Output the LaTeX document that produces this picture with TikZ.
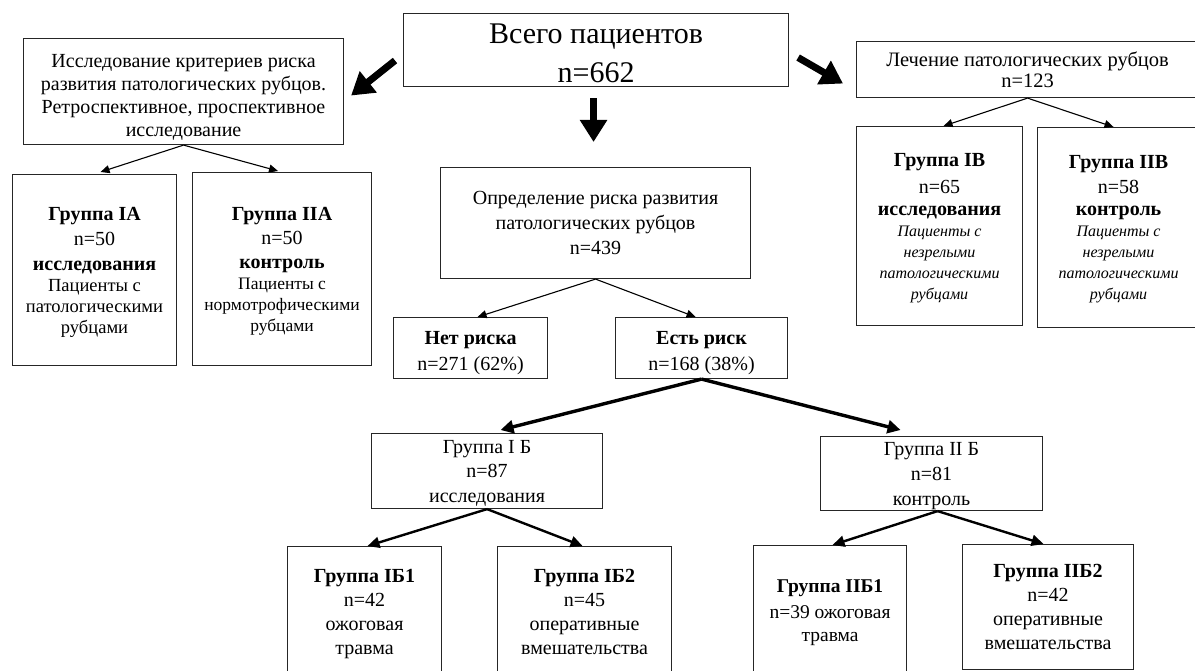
\documentclass[tikz,border=0pt]{standalone}
\usepackage{fontspec}
\setmainfont{Liberation Serif}
\usetikzlibrary{arrows.meta}
\newcommand{\smf}[1]{{\fontsize{18.5}{20}\selectfont #1}}
\newcommand{\smg}[1]{{\fontsize{17.5}{20}\selectfont #1}}
\newcommand{\itf}[1]{{\fontsize{16}{20}\selectfont\itshape #1}}
\newcommand{\upr}[1]{\rule{0pt}{#1}}
\begin{document}
\begin{tikzpicture}[x=1pt,y=-1pt,
  box/.style={draw=black!85, line width=1.1pt, fill=white, inner sep=2pt, align=center,
    anchor=north west, text depth=0pt, font=\fontsize{20}{24}\selectfont},
  thinarrow/.style={-{Triangle[length=9pt,width=8pt]}, line width=1.1pt},
  medarrow/.style={-{Triangle[length=12pt,width=11pt]}, line width=2.4pt},
  boldarrow/.style={-{Triangle[length=13pt,width=13pt]}, line width=3.4pt},
  heavy/.style={-{Triangle[length=22pt,width=26pt]}, line width=7pt}
]
\useasboundingbox (0,0) rectangle (1195,671);
\fill[white] (0,0) rectangle (1195,671);
\clip (0,0) rectangle (1195,671);

% top row
\node[box, minimum width=385pt, minimum height=73pt] (total) at (403,13) {};
\node[align=center, inner sep=2pt, font=\fontsize{30}{39}\selectfont] (totaltxt) at ([shift={(0,3.5)}]total.center) {Всего пациентов\\n=662};
\node[box, minimum width=320pt, minimum height=106pt, font=\fontsize{20}{23.2}\selectfont] (left) at (23,38)
  {\upr{21pt}Исследование критериев риска\\развития патологических рубцов.\\Ретроспективное, проспективное\\исследование};
\node[box, minimum width=342pt, minimum height=56pt, font=\fontsize{20.5}{21}\selectfont] (right) at (856,41)
  {Лечение патологических рубцов\\n=123};

% left branch
\node[box, minimum width=164pt, minimum height=191pt, font=\fontsize{20}{21}\selectfont] (ia) at (12,174)
  {\textbf{Группа IА}\\[4pt]n=50\\[4pt]\textbf{исследования}\\\smf{Пациенты с}\\\smf{патологическими}\\\smf{рубцами}};
\node[box, minimum width=179pt, minimum height=193pt, font=\fontsize{20}{21}\selectfont] (iia) at (192,172)
  {\textbf{Группа IIА}\\[3pt]n=50\\[3pt]\textbf{контроль}\\\smg{Пациенты с}\\\smg{нормотрофическими}\\\smg{рубцами}};

% right branch
\node[box, minimum width=166pt, minimum height=199pt, font=\fontsize{20}{21}\selectfont] (ib) at (856,126)
  {\textbf{Группа IВ}\\[6pt]n=65\\[1pt]\textbf{исследования}\\\itf{Пациенты с}\\\itf{незрелыми}\\\itf{патологическими}\\\itf{рубцами}};
\node[box, minimum width=162pt, minimum height=200pt, font=\fontsize{20}{21}\selectfont] (iib) at (1037,127)
  {\textbf{Группа IIВ}\\[4pt]n=58\\[1pt]\textbf{контроль}\\\itf{Пациенты с}\\\itf{незрелыми}\\\itf{патологическими}\\\itf{рубцами}};

% middle branch
\node[box, minimum width=310pt, minimum height=111pt, font=\fontsize{20}{25}\selectfont] (risk) at (440,167)
  {Определение риска развития\\патологических рубцов\\n=439};
\node[box, minimum width=154pt, minimum height=61pt, font=\fontsize{20}{26}\selectfont] (norisk) at (393,317)
  {\upr{19pt}\textbf{Нет риска}\\n=271 (62\%)};
\node[box, minimum width=172pt, minimum height=61pt, font=\fontsize{20}{26}\selectfont] (yesrisk) at (615,317)
  {\upr{19pt}\textbf{Есть риск}\\n=168 (38\%)};

\node[box, minimum width=231pt, minimum height=75pt, font=\fontsize{20}{24.5}\selectfont] (g1) at (371,433)
  {Группа I Б\\n=87\\исследования};
\node[box, minimum width=222pt, minimum height=74pt, font=\fontsize{20}{25}\selectfont] (g2) at (820,436)
  {Группа II Б\\n=81\\контроль};

\node[box, minimum width=154pt, minimum height=130pt] (g11) at (287,546)
  {\textbf{Группа IБ1}\\n=42\\ожоговая\\травма};
\node[box, minimum width=174pt, minimum height=130pt] (g12) at (497,546)
  {\textbf{Группа IБ2}\\n=45\\оперативные\\вмешательства};
\node[box, minimum width=153pt, minimum height=130pt, font=\fontsize{19.5}{23}\selectfont] (g21) at (753,545)
  {\textbf{Группа IIБ1}\\[3pt]n=39 ожоговая\\травма};
\node[box, minimum width=171pt, minimum height=125pt, font=\fontsize{20}{24}\selectfont] (g22) at (962,544)
  {\textbf{Группа IIБ2}\\n=42\\оперативные\\вмешательства};

% heavy arrows from the top box
\draw[heavy] ([shift={(-8,10.5)}]total.west) -- ([shift={(7,4)}]left.east);
\draw[heavy] ([shift={(9,7.5)}]total.east) -- ([shift={(-13,14)}]right.west);
\draw[heavy] ([shift={(-2.5,11)}]total.south) -- ([shift={(-2,-25)}]risk.north);

% thin arrows
\draw[thinarrow] (left.south) -- ([shift={(6,-2)}]ia.north);
\draw[thinarrow] (left.south) -- ([shift={(-4,-1)}]iia.north);
\draw[thinarrow] (right.south) -- ([shift={(4,0)}]ib.north);
\draw[thinarrow] (right.south) -- ([shift={(-5,0)}]iib.north);
\draw[thinarrow] (risk.south) -- ([shift={(7,0)}]norisk.north);
\draw[thinarrow] (risk.south) -- ([shift={(-6,0)}]yesrisk.north);

% bold arrows
\draw[boldarrow] (yesrisk.south) -- ([shift={(13.5,-3)}]g1.north);
\draw[boldarrow] (yesrisk.south) -- ([shift={(-31,-6)}]g2.north);

\draw[medarrow] (g1.south) -- ([shift={(3,0)}]g11.north);
\draw[medarrow] (g1.south) -- ([shift={(-2,0)}]g12.north);
\draw[medarrow] ([shift={(6,0)}]g2.south) -- ([shift={(2.5,0)}]g21.north);
\draw[medarrow] ([shift={(6,0)}]g2.south) -- ([shift={(-4.5,0)}]g22.north);
\end{tikzpicture}
\end{document}
